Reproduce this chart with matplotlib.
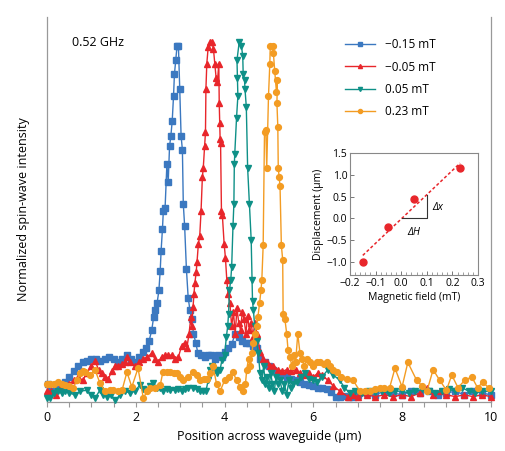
import numpy as np
import matplotlib.pyplot as plt
from matplotlib.ticker import MultipleLocator

plt.rcParams['font.family'] = ['Open Sans', 'DejaVu Sans']

# -0.15 mT (blue squares)
blue_x = [0.02, 0.1, 0.2, 0.3, 0.4, 0.5, 0.6, 0.7, 0.8, 0.9, 1.0, 1.1, 1.2, 1.3, 1.4, 1.5, 1.6, 1.7,
          1.8, 1.9, 2.0, 2.08, 2.16, 2.24, 2.3, 2.36, 2.4, 2.44, 2.48, 2.52, 2.55, 2.57, 2.6, 2.62,
          2.66, 2.7, 2.73, 2.76, 2.79, 2.82, 2.85, 2.87, 2.9, 2.93, 2.96, 2.99, 3.02, 3.05, 3.07,
          3.1, 3.14, 3.18, 3.22, 3.26, 3.3, 3.35, 3.4, 3.47, 3.55, 3.62, 3.7, 3.78, 3.86, 3.94,
          4.0, 4.08, 4.16, 4.24, 4.32, 4.4, 4.48, 4.56, 4.64, 4.72, 4.8, 4.9, 5.0, 5.1, 5.2, 5.3,
          5.4, 5.5, 5.6, 5.7, 5.8, 5.9, 6.0, 6.1, 6.2, 6.3, 6.4, 6.5, 6.6, 6.7, 6.8, 6.9, 7.0,
          7.2, 7.4, 7.6, 7.8, 8.0, 8.2, 8.4, 8.6, 8.8, 9.0, 9.2, 9.4, 9.6, 9.8, 10.0]
blue_y = [0.05, 0.03, 0.035, 0.04, 0.055, 0.07, 0.085, 0.1, 0.11, 0.115, 0.12, 0.12, 0.115, 0.12,
          0.125, 0.12, 0.11, 0.12, 0.13, 0.12, 0.11, 0.125, 0.14, 0.15, 0.17, 0.2, 0.235, 0.255,
          0.275, 0.31, 0.365, 0.42, 0.48, 0.53, 0.54, 0.66, 0.61, 0.71, 0.74, 0.78, 0.85, 0.91,
          0.95, 0.99, 0.99, 0.87, 0.74, 0.7, 0.55, 0.49, 0.37, 0.29, 0.255, 0.23, 0.19, 0.165,
          0.135, 0.13, 0.125, 0.13, 0.13, 0.12, 0.13, 0.125, 0.14, 0.15, 0.16, 0.19, 0.18, 0.17,
          0.165, 0.165, 0.155, 0.15, 0.12, 0.11, 0.1, 0.09, 0.08, 0.075, 0.07, 0.065, 0.06, 0.055,
          0.05, 0.047, 0.045, 0.04, 0.04, 0.035, 0.028, 0.015, 0.015, 0.018, 0.015, 0.015, 0.02,
          0.025, 0.02, 0.03, 0.025, 0.02, 0.03, 0.025, 0.03, 0.02, 0.025, 0.03, 0.02, 0.03, 0.025,
          0.02]

# -0.05 mT (red triangles)
red_x = [0.0, 0.1, 0.2, 0.3, 0.4, 0.5, 0.6, 0.7, 0.8, 0.9, 1.0, 1.08, 1.16, 1.23, 1.3, 1.38, 1.46,
         1.53, 1.6, 1.68, 1.75, 1.8, 1.88, 1.98, 2.07, 2.17, 2.26, 2.36, 2.43, 2.5, 2.58, 2.66,
         2.73, 2.81, 2.88, 2.96, 3.03, 3.1, 3.15, 3.2, 3.24, 3.26, 3.29, 3.31, 3.33, 3.36, 3.38,
         3.41, 3.44, 3.47, 3.5, 3.52, 3.55, 3.57, 3.58, 3.6, 3.63, 3.68, 3.72, 3.75, 3.78, 3.81,
         3.84, 3.87, 3.88, 3.89, 3.9, 3.91, 3.93, 3.95, 3.99, 4.02, 4.05, 4.08, 4.12, 4.16, 4.2,
         4.24, 4.28, 4.32, 4.36, 4.4, 4.44, 4.48, 4.52, 4.56, 4.6, 4.64, 4.68, 4.73, 4.8, 4.87,
         4.95, 5.02, 5.1, 5.2, 5.3, 5.4, 5.5, 5.6, 5.7, 5.8, 5.9, 6.0, 6.1, 6.2, 6.33, 6.45, 6.6,
         6.78, 6.9, 7.0, 7.2, 7.4, 7.6, 7.8, 8.0, 8.2, 8.4, 8.56, 8.7, 8.85, 9.0, 9.2, 9.4, 9.6,
         9.8, 10.0]
red_y = [0.03, 0.03, 0.02, 0.035, 0.04, 0.05, 0.06, 0.07, 0.06, 0.08, 0.1, 0.115, 0.09, 0.08, 0.07,
         0.065, 0.085, 0.1, 0.1, 0.105, 0.11, 0.125, 0.11, 0.1, 0.11, 0.12, 0.125, 0.135, 0.12,
         0.11, 0.125, 0.13, 0.13, 0.13, 0.12, 0.125, 0.155, 0.165, 0.15, 0.19, 0.235, 0.21, 0.265,
         0.3, 0.33, 0.36, 0.39, 0.44, 0.46, 0.53, 0.625, 0.65, 0.71, 0.75, 0.87, 0.94, 0.985, 1.0,
         1.0, 0.98, 0.94, 0.9, 0.89, 0.94, 0.83, 0.775, 0.73, 0.72, 0.53, 0.52, 0.44, 0.4, 0.34,
         0.3, 0.275, 0.21, 0.25, 0.19, 0.26, 0.22, 0.2, 0.25, 0.23, 0.19, 0.24, 0.2, 0.22, 0.18,
         0.22, 0.19, 0.14, 0.12, 0.11, 0.1, 0.1, 0.09, 0.085, 0.09, 0.085, 0.09, 0.08, 0.075, 0.08,
         0.07, 0.08, 0.075, 0.06, 0.045, 0.03, 0.015, 0.02, 0.015, 0.02, 0.015, 0.02, 0.015, 0.02,
         0.015, 0.025, 0.04, 0.02, 0.03, 0.02, 0.015, 0.02, 0.015, 0.02, 0.015]

# 0.05 mT (teal triangles down)
teal_x = [0.0, 0.07, 0.15, 0.25, 0.33, 0.4, 0.5, 0.63, 0.75, 0.9, 1.0, 1.08, 1.19, 1.27, 1.35, 1.45,
          1.53, 1.65, 1.76, 1.87, 1.98, 2.09, 2.17, 2.25, 2.32, 2.39, 2.47, 2.55, 2.62, 2.7, 2.77,
          2.88, 2.96, 3.04, 3.11, 3.18, 3.29, 3.37, 3.44, 3.52, 3.58, 3.63, 3.68, 3.72, 3.78, 3.84,
          3.9, 3.94, 4.0, 4.04, 4.07, 4.09, 4.11, 4.14, 4.16, 4.19, 4.21, 4.22, 4.23, 4.27, 4.3,
          4.29, 4.28, 4.33, 4.38, 4.41, 4.42, 4.45, 4.46, 4.49, 4.52, 4.56, 4.6, 4.62, 4.63, 4.65,
          4.68, 4.72, 4.76, 4.8, 4.84, 4.88, 4.92, 4.96, 5.0, 5.04, 5.08, 5.12, 5.16, 5.2, 5.25,
          5.3, 5.35, 5.4, 5.45, 5.5, 5.55, 5.63, 5.72, 5.81, 5.9, 6.0, 6.08, 6.2, 6.33, 6.45, 6.6,
          6.7, 6.82, 6.95, 7.1, 7.25, 7.4, 7.55, 7.7, 7.85, 8.0, 8.15, 8.3, 8.45, 8.6, 8.75, 8.9,
          9.05, 9.2, 9.35, 9.5, 9.65, 9.8, 10.0]
teal_y = [0.01, 0.01, 0.025, 0.03, 0.025, 0.03, 0.025, 0.02, 0.03, 0.033, 0.02, 0.01, 0.033, 0.02,
          0.015, 0.02, 0.005, 0.02, 0.03, 0.025, 0.03, 0.047, 0.035, 0.033, 0.045, 0.053, 0.04,
          0.04, 0.03, 0.035, 0.033, 0.033, 0.035, 0.03, 0.035, 0.04, 0.04, 0.035, 0.03, 0.03, 0.03,
          0.06, 0.09, 0.1, 0.09, 0.08, 0.09, 0.117, 0.13, 0.18, 0.21, 0.245, 0.31, 0.34, 0.375,
          0.49, 0.55, 0.66, 0.69, 0.79, 0.85, 0.9, 0.95, 1.0, 0.99, 0.96, 0.91, 0.895, 0.87, 0.82,
          0.65, 0.55, 0.45, 0.34, 0.28, 0.255, 0.21, 0.17, 0.135, 0.08, 0.06, 0.1, 0.05, 0.07, 0.04,
          0.08, 0.05, 0.03, 0.07, 0.05, 0.06, 0.03, 0.05, 0.02, 0.06, 0.04, 0.05, 0.055, 0.07, 0.08,
          0.065, 0.06, 0.055, 0.07, 0.09, 0.075, 0.06, 0.04, 0.025, 0.03, 0.025, 0.03, 0.028, 0.03,
          0.025, 0.03, 0.03, 0.025, 0.03, 0.035, 0.03, 0.025, 0.03, 0.035, 0.03, 0.04, 0.03, 0.025,
          0.03, 0.03]

# 0.23 mT (orange circles)
orange_x = [0.0, 0.07, 0.16, 0.25, 0.33, 0.4, 0.5, 0.59, 0.67, 0.74, 0.8, 0.86, 0.97, 1.08, 1.19,
            1.31, 1.42, 1.49, 1.59, 1.69, 1.8, 1.91, 2.05, 2.17, 2.25, 2.32, 2.43, 2.55, 2.61, 2.7,
            2.77, 2.85, 2.92, 3.0, 3.07, 3.18, 3.29, 3.38, 3.45, 3.53, 3.6, 3.67, 3.74, 3.82, 3.9,
            4.0, 4.1, 4.19, 4.27, 4.35, 4.42, 4.47, 4.5, 4.54, 4.58, 4.62, 4.64, 4.68, 4.72, 4.75,
            4.79, 4.82, 4.84, 4.87, 4.9, 4.93, 4.95, 4.99, 5.02, 5.03, 5.09, 5.1, 5.13, 5.17, 5.19,
            5.18, 5.2, 5.21, 5.23, 5.25, 5.28, 5.31, 5.32, 5.36, 5.4, 5.43, 5.47, 5.52, 5.56, 5.6,
            5.65, 5.7, 5.75, 5.8, 5.86, 5.92, 6.0, 6.08, 6.15, 6.23, 6.3, 6.38, 6.45, 6.53, 6.63,
            6.75, 6.9, 7.05, 7.16, 7.27, 7.38, 7.5, 7.6, 7.72, 7.84, 8.0, 8.13, 8.33, 8.45, 8.56,
            8.7, 8.85, 9.0, 9.12, 9.26, 9.41, 9.57, 9.7, 9.82, 9.95]
orange_y = [0.05, 0.05, 0.05, 0.055, 0.05, 0.047, 0.045, 0.04, 0.06, 0.08, 0.085, 0.083, 0.075,
            0.09, 0.053, 0.03, 0.033, 0.033, 0.03, 0.033, 0.083, 0.042, 0.094, 0.01, 0.03, 0.04,
            0.04, 0.047, 0.083, 0.083, 0.083, 0.08, 0.08, 0.07, 0.06, 0.07, 0.083, 0.075, 0.06,
            0.065, 0.065, 0.08, 0.1, 0.05, 0.03, 0.06, 0.07, 0.083, 0.06, 0.043, 0.03, 0.05, 0.09,
            0.12, 0.1, 0.135, 0.165, 0.19, 0.21, 0.235, 0.275, 0.31, 0.34, 0.435, 0.75, 0.755, 0.65,
            0.85, 0.94, 0.99, 0.99, 0.97, 0.92, 0.86, 0.895, 0.83, 0.765, 0.65, 0.625, 0.6, 0.435,
            0.395, 0.245, 0.23, 0.19, 0.145, 0.125, 0.1, 0.13, 0.11, 0.19, 0.135, 0.12, 0.1, 0.12,
            0.11, 0.1, 0.11, 0.11, 0.105, 0.11, 0.1, 0.09, 0.083, 0.07, 0.065, 0.06, 0.03, 0.03,
            0.03, 0.035, 0.04, 0.04, 0.04, 0.094, 0.042, 0.11, 0.06, 0.045, 0.03, 0.09, 0.06, 0.033,
            0.075, 0.04, 0.06, 0.07, 0.04, 0.055, 0.04]

labels = ['\u22120.15 mT', '\u22120.05 mT', '0.05 mT', '0.23 mT']
colors = ['#3b78c0', '#e8262b', '#0e9087', '#f39c23']
markers = ['s', '^', 'v', 'o']

# inset: peak displacement vs field
field = [-0.15, -0.05, 0.05, 0.23]
displacement = [-1.0, -0.2, 0.45, 1.15]

fig = plt.figure(figsize=(5.06, 4.51), dpi=100)
ax = fig.add_axes([0.093, 0.1086, 0.877, 0.854])

series = [(blue_x, blue_y), (red_x, red_y), (teal_x, teal_y), (orange_x, orange_y)]
for (xs, ys), lab, c, m in zip(series, labels, colors, markers):
    ax.plot(xs, ys, color=c, marker=m, ms=4.2, lw=1.0, label=lab, clip_on=False, zorder=3)

ax.set_xlim(0, 10)
ax.set_ylim(0, 1.07)
ax.set_yticks([])
ax.xaxis.set_major_locator(MultipleLocator(2))
ax.xaxis.set_minor_locator(MultipleLocator(0.5))
ax.tick_params(axis='x', which='both', direction='out', length=3.5, width=0.8,
               color='#999999', labelsize=9, pad=3)
for s in ['left', 'right', 'bottom']:
    ax.spines[s].set_color('#999999')
    ax.spines[s].set_linewidth(0.9)
ax.spines['top'].set_visible(False)
ax.set_xlabel('Position across waveguide (\u00b5m)', fontsize=9, labelpad=4)
ax.set_ylabel('Normalized spin-wave intensity', fontsize=9, labelpad=12)
ax.text(0.56, 1.0, '0.52 GHz', fontsize=9, va='center', ha='left')

ax.legend(loc='upper left', bbox_to_anchor=(0.682, 0.915), bbox_transform=fig.transFigure,
          frameon=False, fontsize=8.5, borderpad=0, borderaxespad=0, handlelength=2.5,
          handletextpad=0.85, labelspacing=0.78, markerscale=0.7)

# inset
ins = fig.add_axes([0.6917, 0.390, 0.253, 0.2705])
ins.plot(field, displacement, 'o', color='#e8262b', ms=5, zorder=3)
slope, icpt = np.polyfit(field, displacement, 1)
fx = np.array([field[0], field[-1]])
ins.plot(fx, slope * fx + icpt, color='#e8262b', lw=1.1, ls=(0, (2, 1.5)))
# slope triangle
x0 = -icpt / slope
ins.plot([x0, 0.1, 0.1], [0.0, 0.0, slope * 0.1 + icpt], color='#333333', lw=0.8)
ins.text(0.12, 0.25, '\u0394x', fontsize=7.5, style='italic', va='center')
ins.text(0.05, -0.32, '\u0394H', fontsize=7.5, style='italic', va='center', ha='center')
ins.set_xlim(-0.2, 0.3)
ins.set_ylim(-1.3, 1.5)
ins.set_xticks([-0.2, -0.1, 0.0, 0.1, 0.2, 0.3])
ins.set_xticklabels(['\u22120.2', '\u22120.1', '0.0', '0.1', '0.2', '0.3'])
ins.set_yticks([-1.0, -0.5, 0.0, 0.5, 1.0, 1.5])
ins.set_yticklabels(['\u22121.0', '\u22120.5', '0.0', '0.5', '1.0', '1.5'])
ins.xaxis.set_minor_locator(MultipleLocator(0.02))
ins.tick_params(which='both', direction='in', color='#777777', labelsize=7.5, pad=2)
ins.tick_params(which='major', length=3, width=0.7)
ins.tick_params(which='minor', length=2, width=0.5)
for s in ins.spines.values():
    s.set_color('#888888')
    s.set_linewidth(0.8)
ins.set_xlabel('Magnetic field (mT)', fontsize=7.5, labelpad=2)
ins.set_ylabel('Displacement (\u00b5m)', fontsize=7.5, labelpad=2)

fig.savefig('out.png', dpi=100)
